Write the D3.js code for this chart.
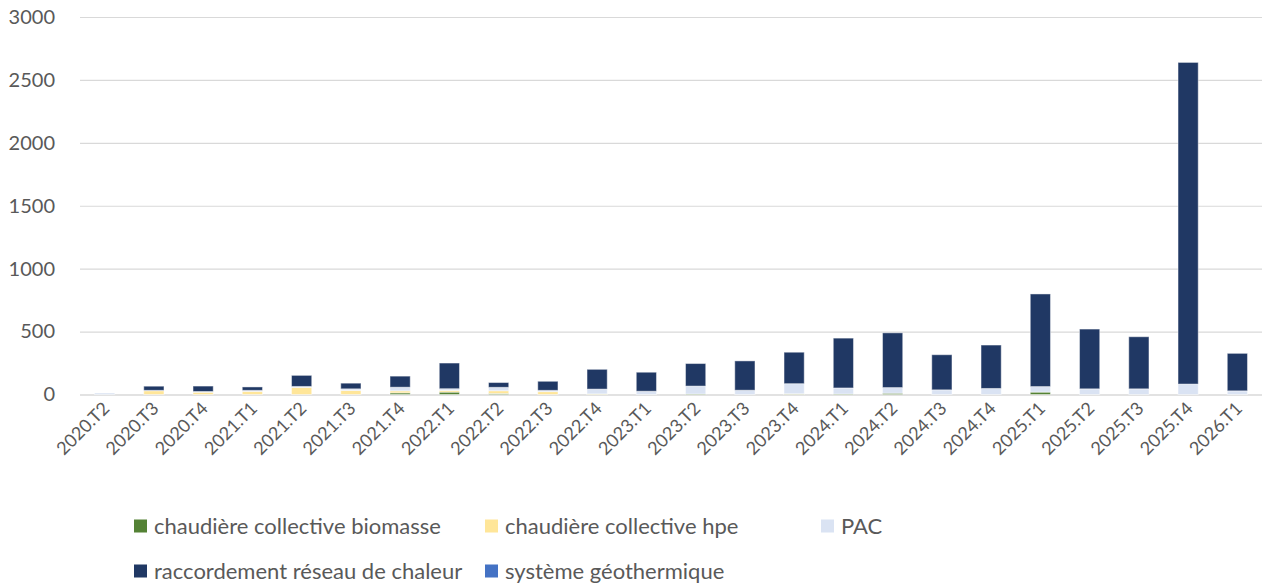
<!DOCTYPE html>
<html>
<head>
<meta charset="utf-8">
<script src="https://cdn.jsdelivr.net/npm/d3@7"></script>
<style>
  body { margin: 0; background: #fff; }
  svg { display: block; font-family: Lato, "Open Sans", sans-serif; }
</style>
</head>
<body>
<div id="chart"></div>
<script>
// Trimestres (axe X)
const quarters = [
  "2020.T2", "2020.T3", "2020.T4", "2021.T1", "2021.T2", "2021.T3", "2021.T4",
  "2022.T1", "2022.T2", "2022.T3", "2022.T4", "2023.T1", "2023.T2", "2023.T3",
  "2023.T4", "2024.T1", "2024.T2", "2024.T3", "2024.T4", "2025.T1", "2025.T2",
  "2025.T3", "2025.T4", "2026.T1"
]

// Séries empilées (du bas vers le haut)
const biomasse = [0, 0, 0, 0, 0, 0, 13, 19, 8, 0, 2, 0, 4, 0, 3, 4, 10, 0, 0, 19, 0, 0, 0, 0]
const hpe = [0, 30, 18, 25, 56, 32, 16, 13, 22, 23, 3, 0, 0, 0, 3, 0, 0, 0, 0, 0, 0, 0, 0, 0]
const pac = [12, 3, 6, 8, 8, 13, 29, 14, 27, 10, 38, 26, 63, 34, 80, 48, 45, 37, 48, 44, 45, 45, 83, 29]
const raccordement = [0, 33, 43, 27, 88, 45, 88, 204, 38, 72, 157, 151, 179, 233, 250, 396, 435, 279, 345, 736, 475, 414, 2556, 298]
const geothermique = [0, 0, 0, 0, 0, 0, 0, 0, 0, 0, 0, 0, 0, 0, 0, 0, 0, 0, 0, 0, 0, 0, 0, 0]

const seriesNames = [
  "chaudière collective biomasse",
  "chaudière collective hpe",
  "PAC",
  "raccordement réseau de chaleur",
  "système géothermique"
]
const seriesColors = ["#548235", "#FFE699", "#DAE3F3", "#203864", "#4472C4"]
const yTicks = [0, 500, 1000, 1500, 2000, 2500, 3000]

const W = 1263, H = 585
const plot = { left: 80, right: 1262, top: 17, bottom: 394.5 }
const textColor = "#595959"
const gridColor = "#D9D9D9"

// Table pour d3.stack
const keys = ["biomasse", "hpe", "pac", "raccordement", "geothermique"]
const cols = [biomasse, hpe, pac, raccordement, geothermique]
const table = quarters.map((q, i) => {
  const row = { q }
  keys.forEach((k, j) => { row[k] = cols[j][i] })
  return row
})
const stacked = d3.stack().keys(keys)(table)

const svg = d3.select("#chart").append("svg")
  .attr("width", W).attr("height", H)

const x = d3.scaleBand()
  .domain(quarters)
  .range([plot.left, plot.right])
  .paddingInner(0.59).paddingOuter(0.295)

const y = d3.scaleLinear()
  .domain([0, 3000])
  .range([plot.bottom, plot.top])

// Grille horizontale + labels Y
const yAxis = svg.append("g")
  .attr("transform", `translate(${plot.left},0)`)
  .call(d3.axisLeft(y).tickValues(yTicks).tickFormat(d3.format("d"))
    .tickSize(-(plot.right - plot.left)).tickPadding(25))
yAxis.select(".domain").remove()
yAxis.selectAll(".tick line").attr("stroke", gridColor).attr("stroke-width", d => d === 0 ? 1.6 : 1.2)
yAxis.selectAll(".tick text")
  .attr("fill", textColor).attr("font-size", 20).attr("font-family", "Lato, sans-serif")

// Barres empilées
svg.append("g").selectAll("g")
  .data(stacked)
  .join("g")
  .attr("fill", (d, i) => seriesColors[i])
  .selectAll("rect")
  .data(d => d.filter(s => s[1] - s[0] > 0))
  .join("rect")
  .attr("x", d => x(d.data.q))
  .attr("width", x.bandwidth())
  .attr("y", d => y(d[1]))
  .attr("height", d => y(d[0]) - y(d[1]))
  .attr("stroke", "#ffffff").attr("stroke-opacity", 0.45).attr("stroke-width", 1)

// Labels X (rotation -45°)
const xAxis = svg.append("g")
  .attr("transform", `translate(0,${plot.bottom})`)
  .call(d3.axisBottom(x).tickSize(0).tickPadding(0))
xAxis.select(".domain").remove()
xAxis.selectAll(".tick text")
  .attr("fill", textColor).attr("font-size", 18).attr("font-family", "Lato, sans-serif")
  .attr("text-anchor", "end")
  .attr("dy", null).attr("y", 0)
  .attr("transform", "translate(6,15) rotate(-45)")

// Légende : 3 colonnes, remplissage ligne par ligne
const legendCols = [134, 485, 821]
const legendRows = [526, 571]
const legend = svg.append("g")
seriesNames.forEach((name, i) => {
  const lx = legendCols[i % 3], ly = legendRows[Math.floor(i / 3)]
  legend.append("rect")
    .attr("x", lx).attr("y", ly - 6.5).attr("width", 13).attr("height", 13)
    .attr("fill", seriesColors[i])
  legend.append("text")
    .attr("x", lx + 20).attr("y", ly).attr("dy", "0.35em")
    .attr("fill", textColor).attr("font-size", 22)
    .text(name)
})
</script>
</body>
</html>
